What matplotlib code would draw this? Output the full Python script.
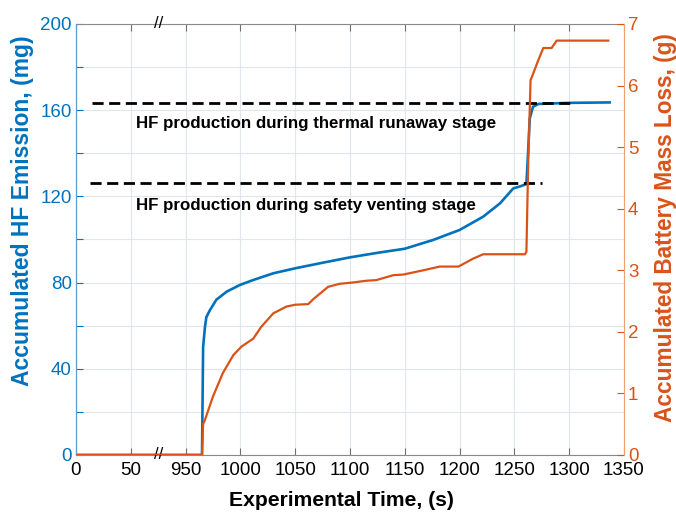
import numpy as np
import matplotlib
matplotlib.use('Agg')
import matplotlib.pyplot as plt
from matplotlib.transforms import blended_transform_factory

# 实验时间 (s) 与累计 HF 排放量 (mg)
t_hf = [0, 965, 966, 967.7, 969, 972, 978, 987.5, 999.6, 1011.8, 1030, 1049.8,
        1075, 1100, 1125, 1150, 1176, 1200, 1221.6, 1237, 1249, 1255, 1261,
        1262.5, 1264, 1267, 1272, 1300, 1337]
hf = [0, 0, 50, 59.5, 64, 67, 72, 75.8, 78.9, 81.2, 84.3, 86.6,
      89.2, 91.7, 93.8, 95.7, 99.8, 104.4, 110.6, 116.8, 123.7, 124.6, 125.7,
      140, 156, 161.6, 162.9, 163.4, 163.6]

# 实验时间 (s) 与电池累计质量损失 (g)
t_ml = [0, 965, 966, 967.7, 975, 984, 993.5, 1001, 1011.8, 1019, 1030, 1042,
        1050, 1062, 1066.5, 1080, 1090.5, 1102, 1115, 1124, 1139.5, 1148.6,
        1167, 1182, 1199, 1212.5, 1221.6, 1259.7, 1261, 1262.7, 1264.8, 1266,
        1271.8, 1276.4, 1284, 1288.6, 1335.7]
ml = [0, 0, 0.5, 0.57, 0.95, 1.33, 1.62, 1.76, 1.89, 2.08, 2.3, 2.41,
      2.44, 2.45, 2.53, 2.73, 2.78, 2.8, 2.83, 2.84, 2.92, 2.93,
      3.0, 3.06, 3.06, 3.19, 3.26, 3.26, 3.3, 4.79, 6.09, 6.14,
      6.41, 6.61, 6.61, 6.73, 6.73]

# 两个阶段的 HF 产量参考线
stage_levels = [163.5, 126.2]
stage_start = [15, 13]
stage_end = [1302, 1275]
stage_text = ['HF production during thermal runaway stage',
              'HF production during safety venting stage']
stage_text_y = [154, 115.8]

xtick_labels = ['0', '50', '950', '1000', '1050', '1100', '1150', '1200',
                '1250', '1300', '1350']

BLUE = '#0072BD'
ORANGE = '#D95319'


def cut(t):
    # 50 s 之后直接跳到 950 s
    t = np.asarray(t, dtype=float)
    return np.where(t <= 100, t, t - 850)


plt.rcParams['font.family'] = ['Liberation Sans', 'DejaVu Sans']

fig = plt.figure(figsize=(6.76, 5.17), dpi=100)
ax = fig.add_axes([0.1124, 0.12, 0.8106, 0.8336])
ax2 = ax.twinx()

ax.plot(cut(t_hf), hf, color=BLUE, lw=1.9, zorder=3)
ax2.plot(cut(t_ml), ml, color=ORANGE, lw=1.6, zorder=3)

for lev, x0, x1, txt, ty in zip(stage_levels, stage_start, stage_end,
                                stage_text, stage_text_y):
    ax.plot([cut(x0), cut(x1)], [lev, lev], color='black', lw=2,
            dashes=(4, 2), zorder=4)
    ax.text(55, ty, txt, fontsize=12.2, fontweight='bold',
            ha='left', va='center', zorder=5)

ax.set_xlim(0, 500)
ax.set_ylim(0, 200)
ax2.set_ylim(0, 7)

ax.set_xticks(np.arange(0, 501, 50))
ax.set_xticklabels(xtick_labels)
ax.set_yticks(np.arange(0, 201, 20))
ax.set_yticklabels([str(v) if v % 40 == 0 else '' for v in range(0, 201, 20)])
ax2.set_yticks(np.arange(0, 8, 1))

ax.grid(True, color='#dfe6ee', lw=0.8)
ax.set_axisbelow(True)

ax.tick_params(axis='x', direction='in', top=True, length=5, labelsize=13.5,
               color='#707070', pad=5)
ax.tick_params(axis='y', direction='in', length=5, labelsize=13.5,
               colors=BLUE, pad=3)
ax2.tick_params(axis='y', direction='in', length=5, labelsize=13.5,
                colors=ORANGE, pad=3)

for s in ['top', 'bottom']:
    ax.spines[s].set_color('#8a8a8a')
    ax2.spines[s].set_visible(False)
ax2.spines['left'].set_color('#5b9bd5')
ax2.spines['right'].set_color('#f0a070')
ax.spines['left'].set_color('#5b9bd5')
ax.spines['right'].set_visible(False)

ax.set_xlabel('Experimental Time, (s)', fontsize=15.2, fontweight='bold')
ax.xaxis.set_label_coords(0.485, -0.083)
ax.set_ylabel('Accumulated HF Emission, (mg)', fontsize=16.5,
              fontweight='bold', color=BLUE)
ax.yaxis.set_label_coords(-0.076, 0.566)
ax2.set_ylabel('Accumulated Battery Mass Loss, (g)', fontsize=16.3,
               fontweight='bold', color=ORANGE)
ax2.yaxis.set_label_coords(1.055, 0.527)

# 断轴符号
tr = blended_transform_factory(ax.transData, ax.transAxes)
for yy in [0, 1]:
    ax.text(75, yy, '//', transform=tr, fontsize=12, ha='center',
            va='center', clip_on=False, zorder=6)

fig.savefig('out.png', dpi=100)
